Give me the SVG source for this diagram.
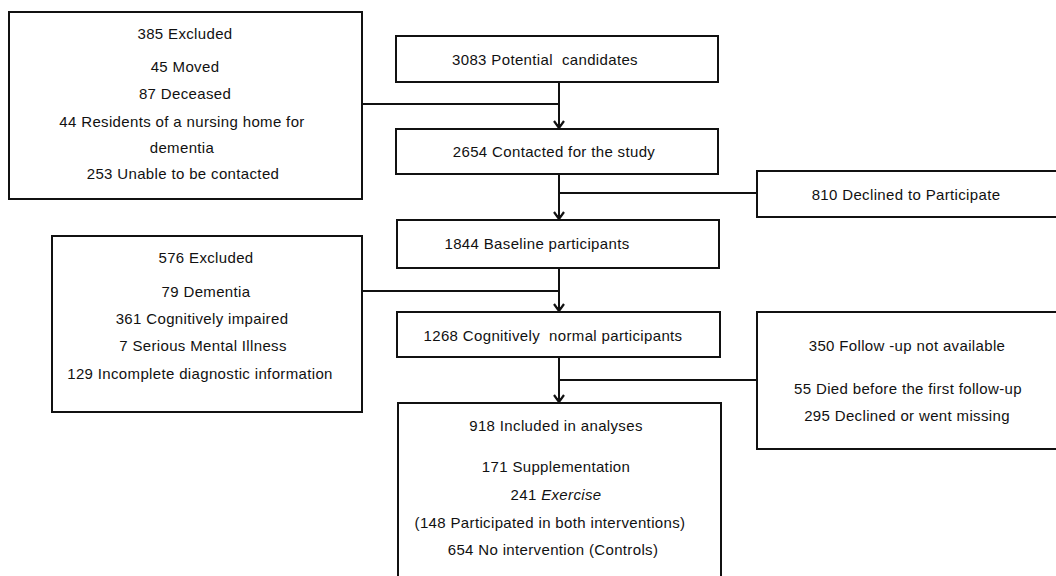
<svg xmlns="http://www.w3.org/2000/svg" width="1056" height="576" viewBox="0 0 1056 576">
<style>
.box{fill:#fff;stroke:#111;stroke-width:2}
.t{font-family:"Liberation Sans",Arial,sans-serif;font-size:15px;letter-spacing:0.35px;fill:#111;text-anchor:middle;white-space:pre}
.ln{fill:none;stroke:#111;stroke-width:2}
</style>
<defs>
<marker id="ah" markerWidth="12" markerHeight="12" viewBox="0 0 12 12" refX="11" refY="6" orient="auto" markerUnits="userSpaceOnUse">
<path d="M4,1 L11,6 L4,11" fill="none" stroke="#111" stroke-width="2.2"/>
<path d="M7,4 L11,6 L7,8 Z" fill="#111"/>
</marker>
</defs>
<g id="connectors">
<path class="ln" d="M559,82 V128" marker-end="url(#ah)"/>
<path class="ln" d="M362,104 H559"/>
<path class="ln" d="M559,174 V219" marker-end="url(#ah)"/>
<path class="ln" d="M559,193 H757"/>
<path class="ln" d="M559,268 V311" marker-end="url(#ah)"/>
<path class="ln" d="M362,291 H559"/>
<path class="ln" d="M559,357 V402" marker-end="url(#ah)"/>
<path class="ln" d="M559,380 H757"/>
</g>
<g id="excluded385">
<rect class="box" x="9" y="12" width="353" height="187"/>
<text class="t" x="185" y="39">385 Excluded</text>
<text class="t" x="185" y="72">45 Moved</text>
<text class="t" x="185" y="99">87 Deceased</text>
<text class="t" x="182" y="127">44 Residents of a nursing home for</text>
<text class="t" x="182" y="153">dementia</text>
<text class="t" x="183" y="179">253 Unable to be contacted</text>
</g>
<g id="candidates">
<rect class="box" x="396" y="36" width="322" height="46"/>
<text class="t" x="545" y="65">3083 Potential  candidates</text>
</g>
<g id="contacted">
<rect class="box" x="396" y="129" width="322" height="45"/>
<text class="t" x="554" y="157">2654 Contacted for the study</text>
</g>
<g id="declined">
<rect class="box" x="757" y="171" width="310" height="46"/>
<text class="t" x="906" y="200">810 Declined to Participate</text>
</g>
<g id="baseline">
<rect class="box" x="397" y="220" width="322" height="48"/>
<text class="t" x="537" y="249">1844 Baseline participants</text>
</g>
<g id="excluded576">
<rect class="box" x="52" y="236" width="310" height="176"/>
<text class="t" x="206" y="263">576 Excluded</text>
<text class="t" x="206" y="297">79 Dementia</text>
<text class="t" x="202" y="324">361 Cognitively impaired</text>
<text class="t" x="203" y="351">7 Serious Mental Illness</text>
<text class="t" x="200" y="379">129 Incomplete diagnostic information</text>
</g>
<g id="normal">
<rect class="box" x="397" y="312" width="323" height="45"/>
<text class="t" x="553" y="341">1268 Cognitively  normal participants</text>
</g>
<g id="followup">
<rect class="box" x="757" y="312" width="310" height="137"/>
<text class="t" x="907" y="351">350 Follow -up not available</text>
<text class="t" x="908" y="394">55 Died before the first follow-up</text>
<text class="t" x="907" y="421">295 Declined or went missing</text>
</g>
<g id="included">
<rect class="box" x="398" y="403" width="323" height="190"/>
<text class="t" x="556" y="431">918 Included in analyses</text>
<text class="t" x="556" y="472">171 Supplementation</text>
<text class="t" x="556" y="500">241 <tspan font-style="italic">Exercise</tspan></text>
<text class="t" x="550" y="528">(148 Participated in both interventions)</text>
<text class="t" x="553" y="555">654 No intervention (Controls)</text>
</g>
</svg>
